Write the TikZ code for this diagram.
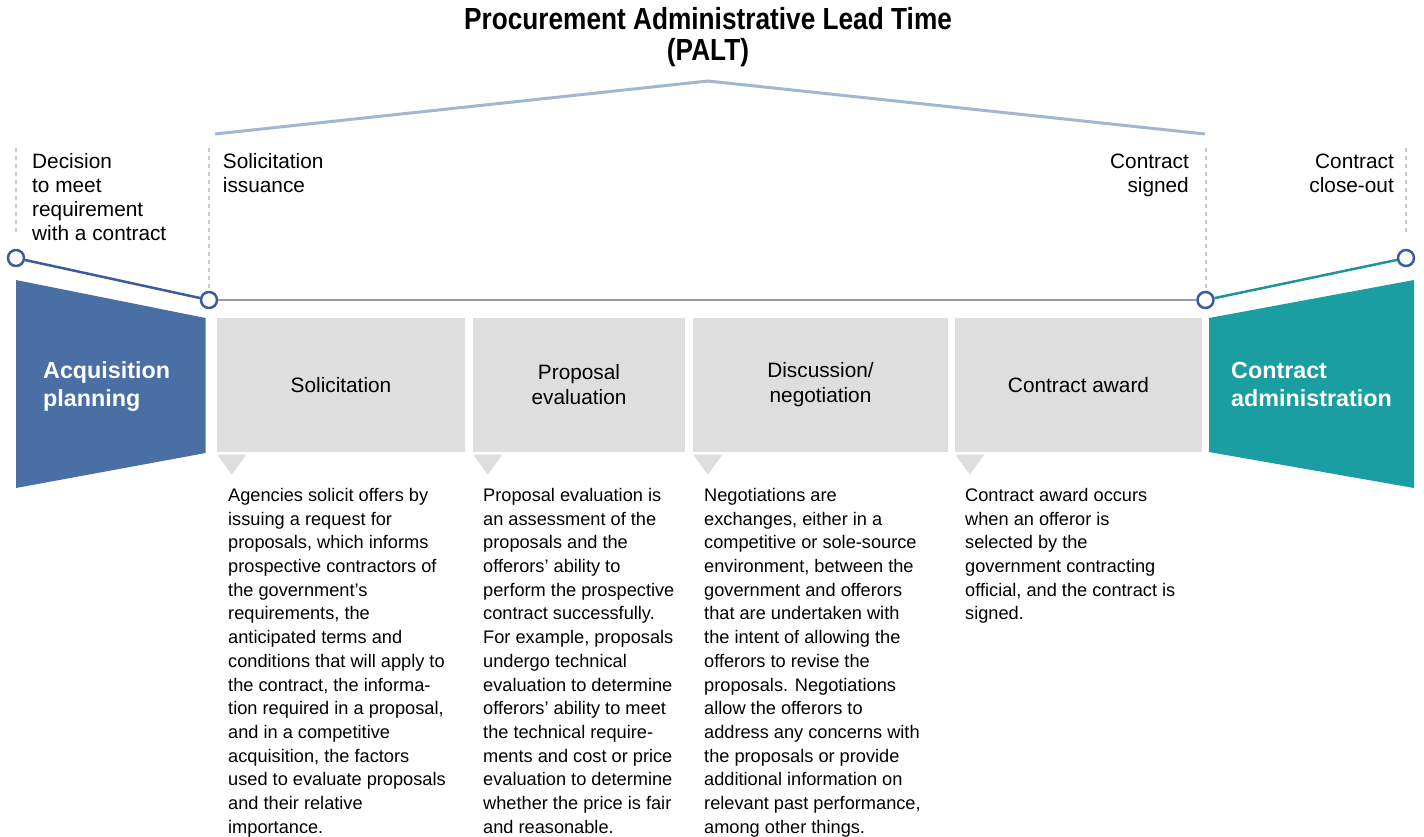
\documentclass[tikz,border=0pt]{standalone}
\usepackage{fontspec}
\setmainfont{Liberation Sans}
\newfontfamily\titlefont[FakeStretch=0.86]{Liberation Sans}
\usepackage{tikz}
\definecolor{planblue}{HTML}{4A6FA5}
\definecolor{adminteal}{HTML}{1B9EA2}
\definecolor{stepgray}{HTML}{DEDEDE}
\definecolor{ringblue}{HTML}{3A5C9E}
\definecolor{roofblue}{HTML}{A3B6D2}
\definecolor{dashgray}{HTML}{C8C8C8}
\definecolor{linegray}{HTML}{9A9A9A}
\tikzset{
phase/.style = {rectangle, fill=stepgray, minimum width=#1, minimum height=134pt, inner sep=0pt, align=center, font=\fontsize{20.8}{25}\selectfont},
phase/.default = 248pt, % width of the gray step box
milestone/.style = {circle, draw=ringblue, fill=white, line width=2.5pt, minimum size=16pt, inner sep=0pt},
mlabel/.style = {inner sep=0pt, font=\fontsize{20.8}{24}\selectfont},
endphase/.style = {anchor=north west, inner sep=0pt, align=left, text=white, font=\bfseries\fontsize{23.3}{28}\selectfont},
desc/.style = {anchor=north west, inner sep=0pt, align=left, font=\fontsize{18.2}{23.7}\selectfont},
guideline/.style = {draw=dashgray, line width=2pt, dash pattern=on 4pt off 4pt},
}

\begin{document}
\begin{tikzpicture}[x=1pt, y=-1pt]
    \useasboundingbox (0,0) rectangle (1424,836);
    \node[font=\titlefont\bfseries\fontsize{30.5}{31}\selectfont, align=center, anchor=north, inner sep=0pt] (title) at (708,7.2) {Procurement Administrative Lead Time\\(PALT)};

    % roof over the PALT part
    \coordinate (roofL) at (215,134);
    \coordinate (roofT) at (708,81);
    \coordinate (roofR) at (1205,134);
    \draw[roofblue, line width=3pt] (roofL) -- (roofT) -- (roofR);

    % start and end phases
    \fill[planblue] (16,280) -- (205.7,318) -- (205.7,453) -- (16,488) -- cycle;
    \fill[adminteal] (1209,318) -- (1414,280) -- (1414,488) -- (1209,452) -- cycle;
    \node[endphase] (acq) at (43,361.8) {Acquisition\\planning};
    \node[endphase] (admin) at (1231,361.8) {Contract\\administration};

    % milestones
    \node[milestone] (m1) at (16,258) {};
    \node[milestone] (m2) at (209,300) {};
    \node[milestone] (m3) at (1205.5,300) {};
    \node[milestone] (m4) at (1406,258) {};
    \coordinate (g1) at (16,148);
    \coordinate (g2) at (209,148);
    \coordinate (g3) at (1205.5,148);
    \coordinate (g4) at (1406,148);
    \draw[guideline, shorten >=15pt] (g1) -- (m1);
    \draw[guideline, shorten >=2pt] (g2) -- (m2);
    \draw[guideline, shorten >=2pt] (g3) -- (m3);
    \draw[guideline, shorten >=15pt] (g4) -- (m4);
    \draw[ringblue, line width=2.5pt] (m1) -- (m2);
    \draw[linegray, line width=2.5pt] (m2) -- (m3);
    \draw[adminteal!95!black, line width=2.5pt] (m3) -- (m4);

    \node[mlabel, anchor=north west, align=left] (decision) at (32,153.6) {Decision\\to meet\\requirement\\with a contract};
    \node[mlabel, anchor=north west, align=left] (issuance) at (222.7,153.6) {Solicitation\\issuance};
    \node[mlabel, anchor=north east, align=right] (signed) at (1189,153.6) {Contract\\signed};
    \node[mlabel, anchor=north east, align=right] (closeout) at (1394,153.6) {Contract\\close-out};

    % PALT steps
    \node[phase=248pt] (solic) at (341,385) {Solicitation};
    \node[phase=212pt] (evalu) at (579,385) {Proposal\\evaluation};
    \node[phase=255pt] (negot) at (820.5,385) {Discussion/\\negotiation};
    \node[phase=247pt] (award) at (1078.5,385) {Contract award};
    \foreach \b in {solic,evalu,negot,award}
        \fill[stepgray] ([xshift=0.5pt,yshift=-2.5pt]\b.south west) -- ++(29,0) -- ++(-14.5,20) -- cycle;

    \node[desc] (solicdesc) at (228,488) {Agencies solicit offers by\\issuing a request for\\proposals, which informs\\prospective contractors of\\the government’s\\requirements, the\\anticipated terms and\\conditions that will apply to\\the contract, the informa-\\tion required in a proposal,\\and in a competitive\\acquisition, the factors\\used to evaluate proposals\\and their relative\\importance.};
    \node[desc] (evaludesc) at (483,488) {Proposal evaluation is\\an assessment of the\\proposals and the\\offerors’ ability to\\perform the prospective\\contract successfully.\\For example, proposals\\undergo technical\\evaluation to determine\\offerors’ ability to meet\\the technical require-\\ments and cost or price\\evaluation to determine\\whether the price is fair\\and reasonable.};
    \node[desc] (negotdesc) at (704,488) {Negotiations are\\exchanges, either in a\\competitive or sole-source\\environment, between the\\government and offerors\\that are undertaken with\\the intent of allowing the\\offerors to revise the\\proposals. Negotiations\\allow the offerors to\\address any concerns with\\the proposals or provide\\additional information on\\relevant past performance,\\among other things.};
    \node[desc] (awarddesc) at (965,488) {Contract award occurs\\when an offeror is\\selected by the\\government contracting\\official, and the contract is\\signed.};
\end{tikzpicture}
\end{document}
